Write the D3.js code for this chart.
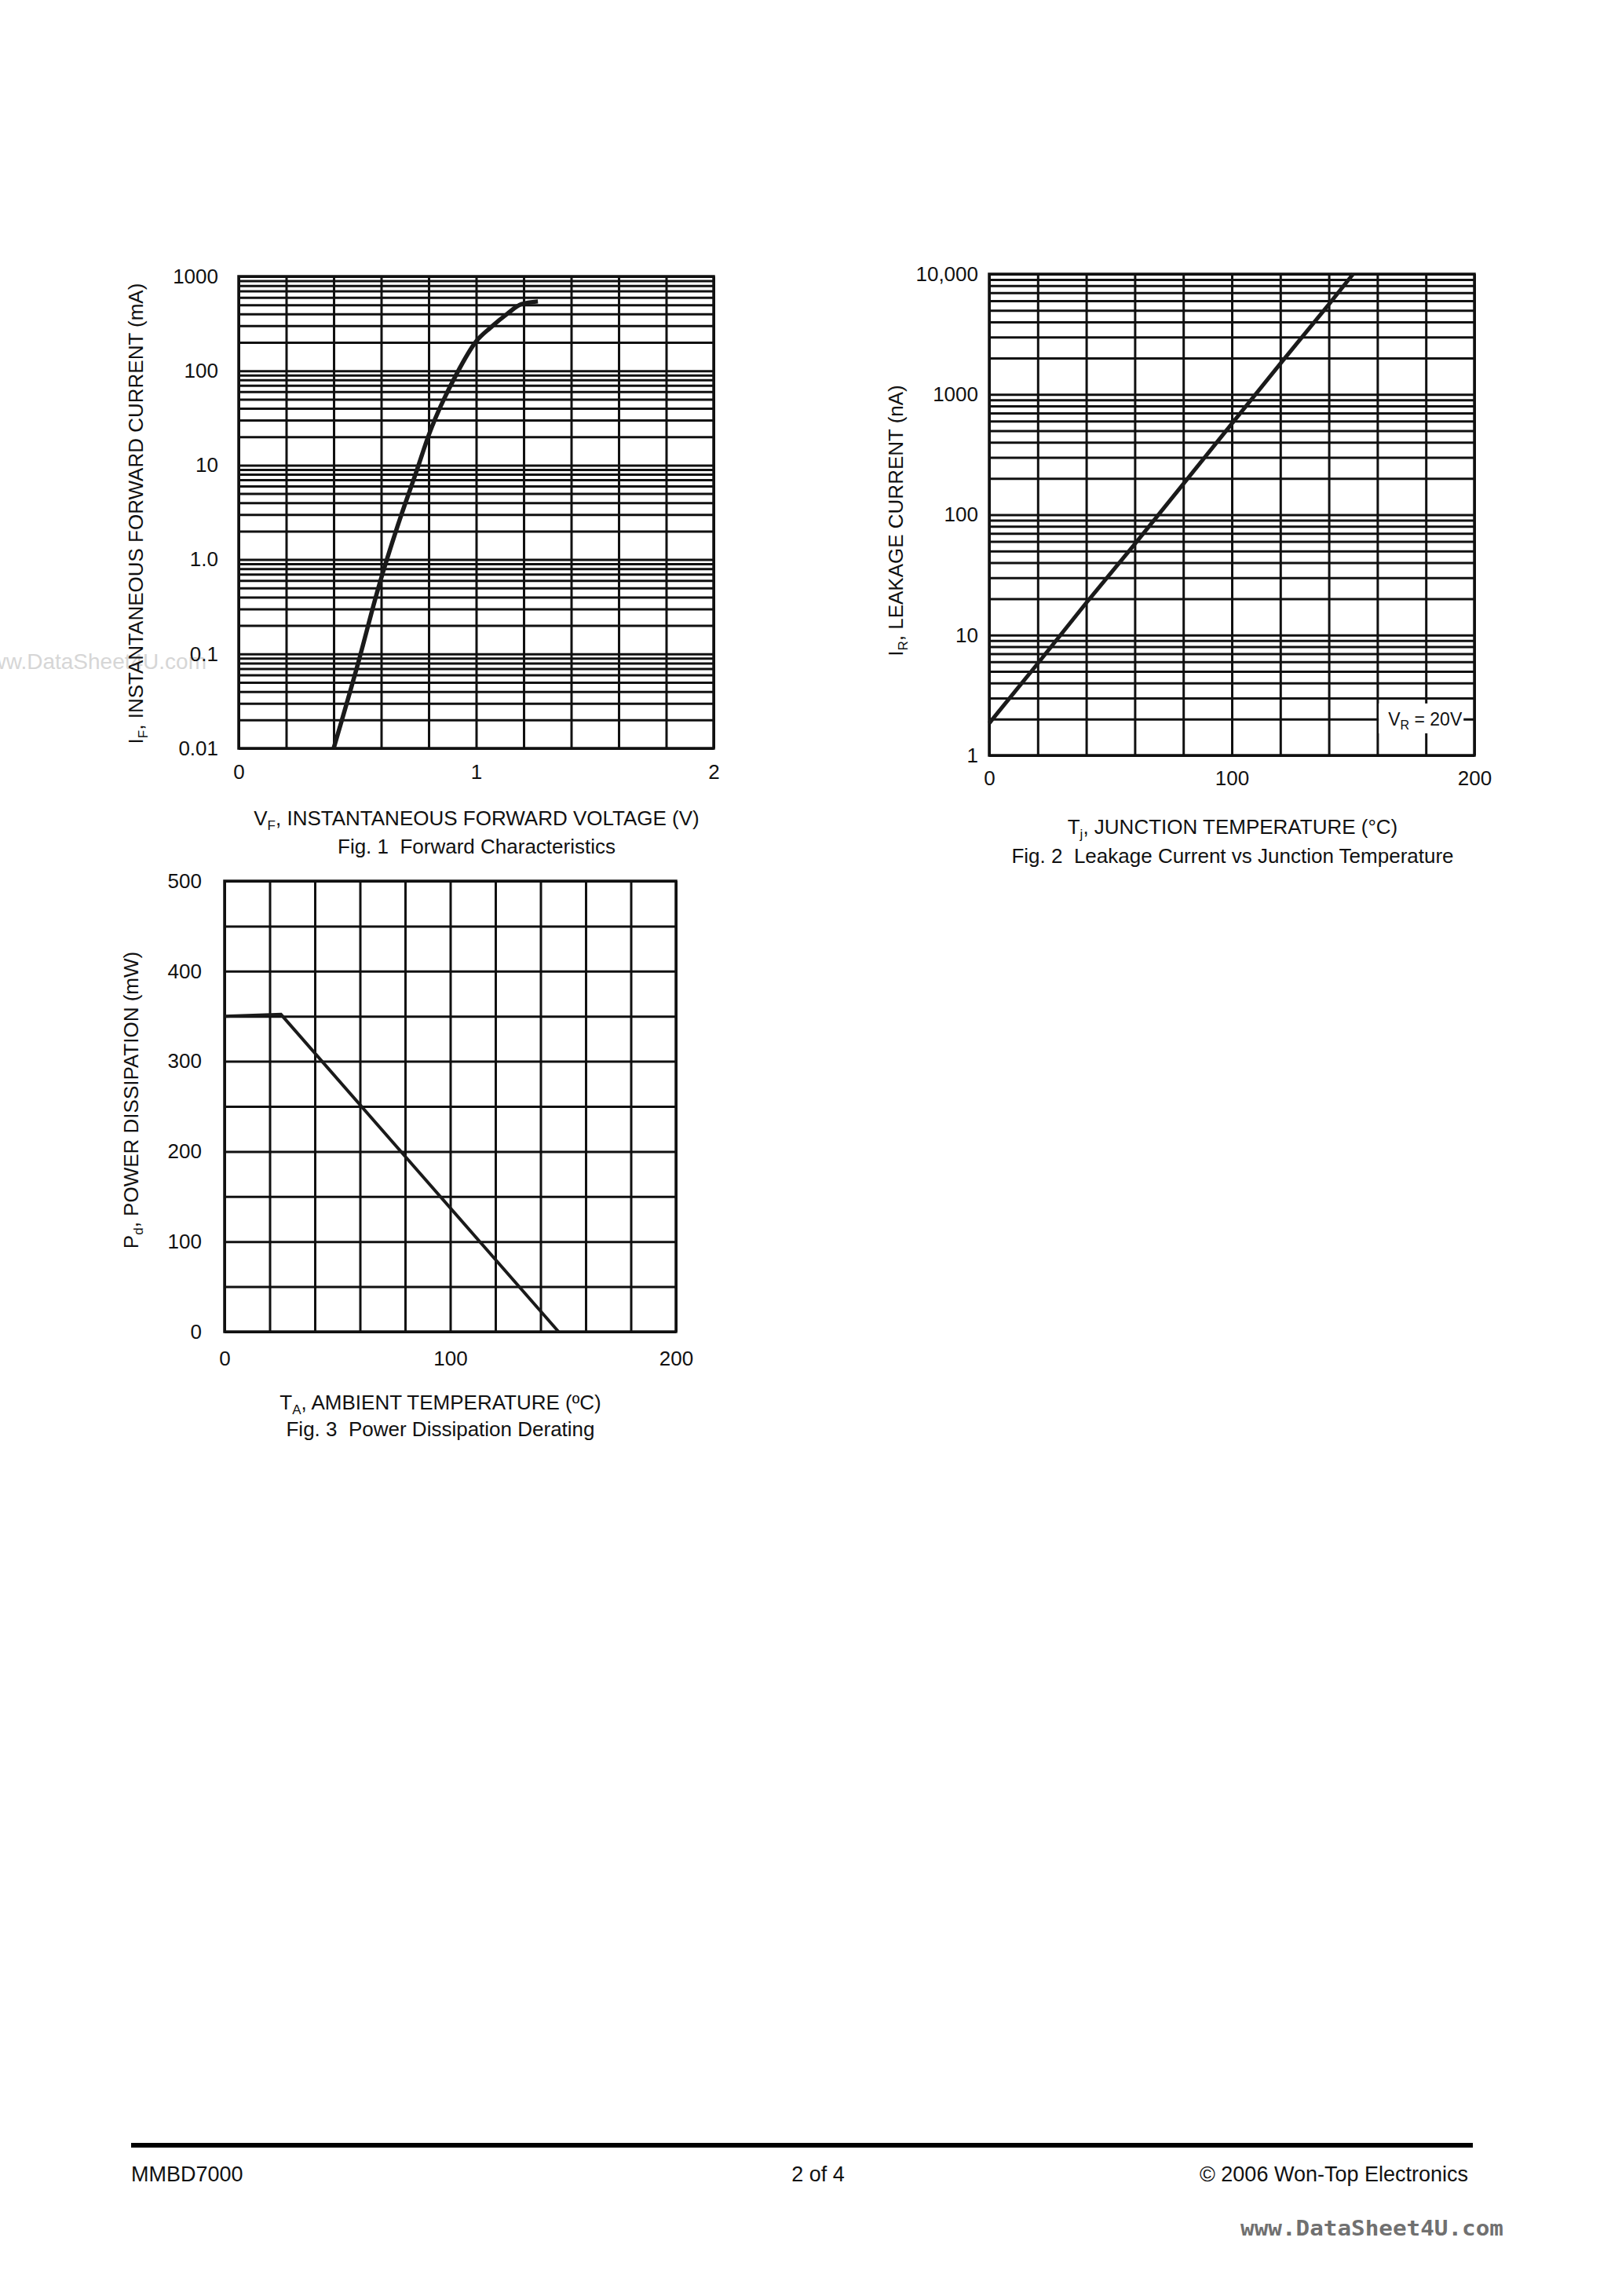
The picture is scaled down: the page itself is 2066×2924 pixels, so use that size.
<!DOCTYPE html>
<html>
<head>
<meta charset="utf-8">
<script src="https://cdn.jsdelivr.net/npm/d3@7"></script>
<style>
  body { margin: 0; background: #fff; }
  text { font-family: "Liberation Sans", Arial, sans-serif; fill: #111; white-space: pre; }
</style>
</head>
<body>
<script>
// Fig. 1 forward characteristics
let fig1Voltage = [0.40, 0.50, 0.59, 0.67, 0.75, 0.80, 0.92, 1.00, 1.06, 1.13, 1.19, 1.26]
let fig1Current = [0.01, 0.075, 0.52, 2.3, 8.8, 20.7, 95, 205, 286, 400, 507, 543]
let fig1YTicks = [0.01, 0.1, 1, 10, 100, 1000]
let fig1YLabels = ['0.01', '0.1', '1.0', '10', '100', '1000']
let fig1XTicks = [0, 1, 2]

// Fig. 2 leakage current vs junction temperature
let fig2Temp = [0, 20, 40, 60, 80, 100, 120, 140, 150]
let fig2Leak = [1.85, 5.8, 18.5, 57, 180, 570, 1800, 5600, 10000]
let fig2YTicks = [1, 10, 100, 1000, 10000]
let fig2YLabels = ['1', '10', '100', '1000', '10,000']
let fig2XTicks = [0, 100, 200]

// Fig. 3 power dissipation derating
let fig3Temp = [0, 25, 148]
let fig3Power = [350, 352, 0]
let fig3YTicks = [0, 100, 200, 300, 400, 500]
let fig3XTicks = [0, 100, 200]

let width = 2066, height = 2924
let font = 26

let svg = d3.select('body')
            .append('svg')
            .attr('width', width)
            .attr('height', height)
            .style('background', '#fff')

// faint watermark on the left edge
svg.append('text')
   .attr('x', 263).attr('y', 852)
   .attr('text-anchor', 'end')
   .style('font-size', '28px')
   .style('fill', '#d6d6d6')
   .text('www.DataSheet4U.com')

function panel(x, y, xTicks, yTicks, yLabels, opt) {
  let g = svg.append('g')
  let [x0, x1] = x.range()
  let [y0, y1] = y.range()
  let w = x1 - x0, h = y0 - y1

  // grid lines
  g.append('g')
   .attr('transform', `translate(${x0},0)`)
   .call(d3.axisLeft(y).tickValues(opt.yGrid).tickSize(-w).tickFormat(''))
   .call(s => s.select('.domain').remove())
   .selectAll('line').attr('stroke', '#111').attr('stroke-width', 3)
  g.append('g')
   .attr('transform', `translate(0,${y0})`)
   .call(d3.axisBottom(x).tickValues(opt.xGrid).tickSize(-h).tickFormat(''))
   .call(s => s.select('.domain').remove())
   .selectAll('line').attr('stroke', '#111').attr('stroke-width', 3)
  g.append('rect')
   .attr('x', x0).attr('y', y1).attr('width', w).attr('height', h)
   .attr('fill', 'none').attr('stroke', '#111').attr('stroke-width', 3.5)

  // tick labels
  let ya = g.append('g')
   .attr('transform', `translate(${x0},0)`)
   .call(d3.axisLeft(y).tickValues(yTicks).tickSize(0).tickPadding(opt.yPad)
          .tickFormat((d, i) => yLabels[i]))
  let xa = g.append('g')
   .attr('transform', `translate(0,${y0})`)
   .call(d3.axisBottom(x).tickValues(xTicks).tickSize(0).tickPadding(opt.xPad)
          .tickFormat(d => d))
  ;[ya, xa].forEach(a => {
    a.select('.domain').remove()
    a.attr('font-family', null).attr('font-size', null)
    a.selectAll('text').style('font-size', font + 'px').attr('fill', '#111')
  })
  return g
}

function subText(parent, main, sub, rest) {
  let t = parent.append('text')
                .attr('text-anchor', 'middle')
                .style('font-size', font + 'px')
  t.append('tspan').text(main)
  t.append('tspan').style('font-size', '17px').attr('dy', 6).text(sub)
  t.append('tspan').attr('dy', -6).text(rest)
  return t
}

// ---------- Fig 1 ----------
let x1s = d3.scaleLinear().domain([0, 2]).range([304, 909])
let y1s = d3.scaleLog().domain([0.01, 1000]).range([953, 352])
let g1 = panel(x1s, y1s, fig1XTicks, fig1YTicks, fig1YLabels,
               {yGrid: y1s.ticks(), xGrid: x1s.ticks(10), yPad: 26, xPad: 21})

let fig1Data = fig1Voltage.map((v, i) => ({x: v, y: fig1Current[i]}))
g1.append('path')
  .datum(fig1Data)
  .attr('fill', 'none').attr('stroke', '#1a1a1a').attr('stroke-width', 5.5)
  .attr('d', d3.line().x(d => x1s(d.x)).y(d => y1s(d.y)).curve(d3.curveMonotoneX))

subText(svg, 'V', 'F', ', INSTANTANEOUS FORWARD VOLTAGE (V)')
  .attr('x', 607).attr('y', 1051)
svg.append('text').attr('x', 607).attr('y', 1087)
   .attr('text-anchor', 'middle').style('font-size', font + 'px')
   .text('Fig. 1  Forward Characteristics')
subText(svg, 'I', 'F', ', INSTANTANEOUS FORWARD CURRENT (mA)')
  .attr('transform', 'translate(182,654) rotate(-90)')

// ---------- Fig 2 ----------
let x2s = d3.scaleLinear().domain([0, 200]).range([1260, 1878])
let y2s = d3.scaleLog().domain([1, 10000]).range([962, 349])
let g2 = panel(x2s, y2s, fig2XTicks, fig2YTicks, fig2YLabels,
               {yGrid: y2s.ticks(), xGrid: x2s.ticks(10), yPad: 14, xPad: 20})

let fig2Data = fig2Temp.map((t, i) => ({x: t, y: fig2Leak[i]}))
g2.append('path')
  .datum(fig2Data)
  .attr('fill', 'none').attr('stroke', '#1a1a1a').attr('stroke-width', 5)
  .attr('d', d3.line().x(d => x2s(d.x)).y(d => y2s(d.y)))

// V_R label box sitting on the 2 nA line
let vrx = x2s(180) - 4, vry = y2s(2)
g2.append('rect')
  .attr('x', vrx - 56).attr('y', vry - 20).attr('width', 108).attr('height', 38)
  .attr('fill', '#fff')
let vr = g2.append('text').attr('x', vrx - 44).attr('y', vry + 8).style('font-size', '23px')
vr.append('tspan').text('V')
vr.append('tspan').style('font-size', '16px').attr('dy', 5).text('R')
vr.append('tspan').attr('dy', -5).text(' = 20V')

subText(svg, 'T', 'j', ', JUNCTION TEMPERATURE (°C)')
  .attr('x', 1570).attr('y', 1062)
svg.append('text').attr('x', 1570).attr('y', 1099)
   .attr('text-anchor', 'middle').style('font-size', font + 'px')
   .text('Fig. 2  Leakage Current vs Junction Temperature')
subText(svg, 'I', 'R', ', LEAKAGE CURRENT (nA)')
  .attr('transform', 'translate(1150,663) rotate(-90)')

// ---------- Fig 3 ----------
let x3s = d3.scaleLinear().domain([0, 200]).range([286, 861])
let y3s = d3.scaleLinear().domain([0, 500]).range([1696, 1122])
let g3 = panel(x3s, y3s, fig3XTicks, fig3YTicks, fig3YTicks.map(String),
               {yGrid: y3s.ticks(10), xGrid: x3s.ticks(10), yPad: 29, xPad: 25})

let fig3Data = fig3Temp.map((t, i) => ({x: t, y: fig3Power[i]}))
g3.append('path')
  .datum(fig3Data)
  .attr('fill', 'none').attr('stroke', '#1a1a1a').attr('stroke-width', 4)
  .attr('d', d3.line().x(d => x3s(d.x)).y(d => y3s(d.y)))

subText(svg, 'T', 'A', ', AMBIENT TEMPERATURE (ºC)')
  .attr('x', 561).attr('y', 1795)
svg.append('text').attr('x', 561).attr('y', 1829)
   .attr('text-anchor', 'middle').style('font-size', font + 'px')
   .text('Fig. 3  Power Dissipation Derating')
subText(svg, 'P', 'd', ', POWER DISSIPATION (mW)')
  .attr('transform', 'translate(176,1401) rotate(-90)')

// ---------- footer ----------
svg.append('rect').attr('x', 167).attr('y', 2729).attr('width', 1709).attr('height', 6).attr('fill', '#000')
svg.append('text').attr('x', 167).attr('y', 2778).style('font-size', '27px').text('MMBD7000')
svg.append('text').attr('x', 1042).attr('y', 2778).attr('text-anchor', 'middle').style('font-size', '27px').text('2 of 4')
svg.append('text').attr('x', 1870).attr('y', 2778).attr('text-anchor', 'end').style('font-size', '27px').text('© 2006 Won-Top Electronics')
svg.append('text').attr('x', 1580).attr('y', 2847)
   .attr('textLength', 335).attr('lengthAdjust', 'spacingAndGlyphs')
   .style('font-family', '"DejaVu Sans Mono", monospace').style('font-weight', 'bold')
   .style('font-size', '26px').style('fill', '#707070')
   .text('www.DataSheet4U.com')
</script>
</body>
</html>
